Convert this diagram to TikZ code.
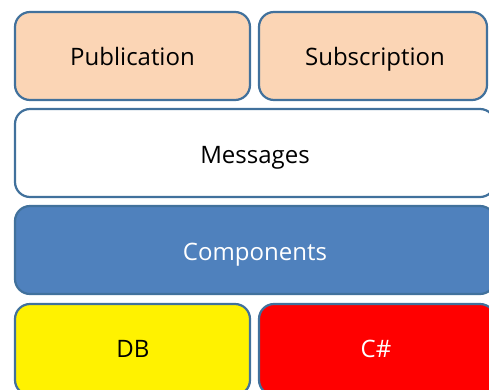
\documentclass[tikz,border=0pt]{standalone}
\usepackage{fontspec}
\setmainfont{Open Sans}
\definecolor{edge}{HTML}{41719C}
\definecolor{peach}{HTML}{FBD5B5}
\definecolor{steel}{HTML}{4F81BD}
\begin{document}
\begin{tikzpicture}[x=1pt,y=-1pt,
  blk/.style={draw=edge,line width=2.2pt,rounded corners=15pt},
  lbl/.style={anchor=base,inner sep=0pt,font=\fontsize{24}{28}\selectfont}]
\useasboundingbox (0,0) rectangle (489,389);
\clip (0,0) rectangle (489,389);
\draw[blk,fill=peach] (15,12) rectangle (250,100);
\node[lbl] (pub) at (132.5,65) {Publication};
\draw[blk,fill=peach] (259,12) rectangle (487,100);
\node[lbl] (sub) at (375,65) {Subscription};
\draw[blk,fill=white] (15,109) rectangle (495,197);
\node[lbl] (msg) at (255,163) {Messages};
\draw[blk,fill=steel] (15,206) rectangle (495,294);
\node[lbl,text=white] (cmp) at (255,260) {Components};
\draw[blk,fill=yellow] (15,304) rectangle (250,395);
\node[lbl] (db) at (133,357) {DB};
\draw[blk,fill=red] (259,304) rectangle (495,395);
\node[lbl,text=white] (cs) at (376,357) {C\#};
\end{tikzpicture}
\end{document}
